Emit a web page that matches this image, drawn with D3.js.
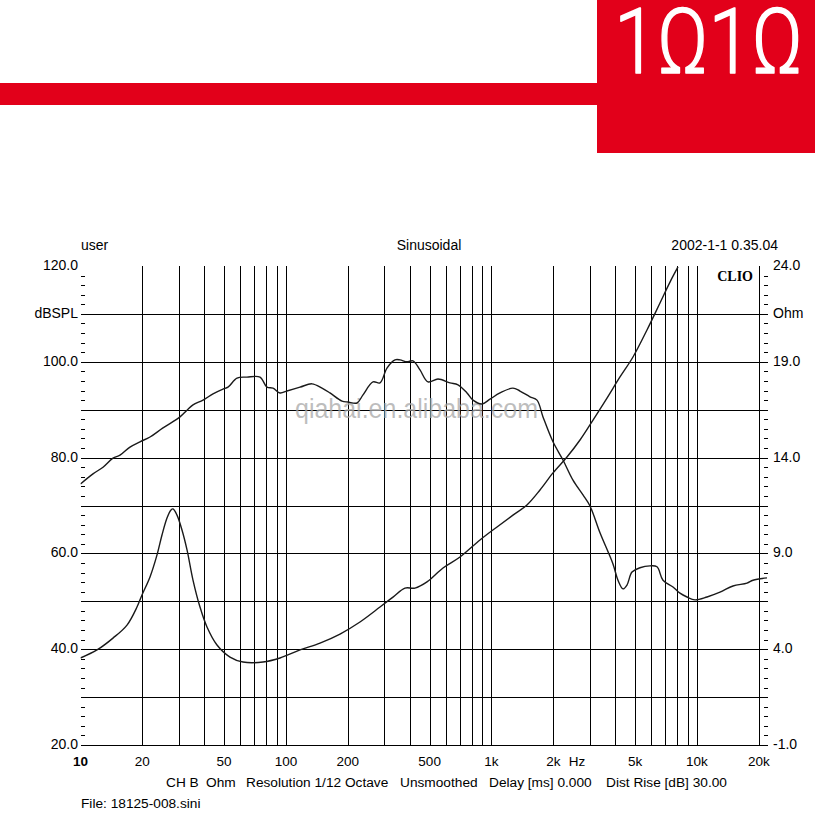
<!DOCTYPE html>
<html><head><meta charset="utf-8">
<script src="https://cdn.jsdelivr.net/npm/d3@7/dist/d3.min.js"></script>
<style>
html,body{margin:0;padding:0;background:#fff;}
svg{display:block;font-family:"Liberation Sans",Arial,sans-serif;}
</style></head>
<body>
<svg id="c" width="828" height="824"></svg>
<script>
// ---------- data ----------
const gridFreqs = [20,30,40,50,60,70,80,90,100,200,300,400,500,600,700,800,900,1000,2000,3000,4000,5000,6000,7000,8000,9000,10000,20000];
const xLabelFreqs = [10,20,50,100,200,500,1000,2000,5000,10000,20000];
const xLabelTexts = ["10","20","50","100","200","500","1k","2k","5k","10k","20k"];
const dbGrid = [20,30,40,50,60,70,80,90,100,110];
const leftTickValues = [120,110,100,80,60,40,20];
const leftTickLabels = ["120.0","dBSPL","100.0","80.0","60.0","40.0","20.0"];
const rightTickValues = [24,21.5,19,14,9,4,-1];
const rightTickLabels = ["24.0","Ohm","19.0","14.0","9.0","4.0","-1.0"];
const footerTexts = ["CH B","Ohm","Resolution 1/12 Octave","Unsmoothed","Delay [ms] 0.000","Dist Rise [dB] 30.00"];

const splFreq = [10,11.5,12.87,14.39,15.57,17.41,19.47,21.79,25.2,30.5,32.99,35.27,39.46,44.14,49.36,52.21,57.75,64.6,74.73,80.82,86.46,93.49,101.1,117,133.8,149.7,163.7,187.3,200.3,221.6,237,265.1,286.7,310,339.2,358.7,387.9,415,448.8,491,549.2,628.2,687.1,760,812.8,898.9,983.3,1100,1272,1376,1539,1665,1781,1992,2228,2492,2788,3015,3373,3901,4126,4365,4564,4828,5280,5905,6389,6832,7642,8265,8941,9777,11190,12940,14970,17510,18730,21910];
const splDb = [74.5,76.6,78.0,79.9,80.5,82.2,83.3,84.3,86.2,88.5,89.9,91.0,92.0,93.3,94.3,94.7,96.6,96.8,96.8,94.7,94.5,93.5,93.9,94.7,95.4,94.5,93.5,91.8,91.6,91.4,93.1,95.8,95.6,98.7,100.4,100.4,100.0,100.2,98.3,95.8,96.4,95.6,95.2,93.5,92.0,91.2,92.2,93.5,94.5,93.9,92.7,92.0,88.5,83.3,79.5,75.3,72.2,69.9,64.3,57.8,54.4,52.6,53.4,56.1,57.0,57.4,57.2,54.4,53.0,51.7,50.9,50.3,50.9,51.9,53.2,53.8,54.4,54.9];

const impFreq = [10,12.03,14.39,16.84,18.83,19.92,21.79,23.57,24.92,26.36,27.57,28.19,29.48,31.18,32.99,35.27,38.15,41.26,46.15,53.39,61.78,77.29,93.49,117,146.4,183.2,229.1,286.7,331.7,379.3,424.3,485.5,580.8,702.7,879,1064,1272,1488,1722,1992,2330,2696,3119,3648,4220,4882,5710,6607,7390,8083];
const impOhm = [3.54,3.96,4.58,5.26,6.20,6.83,7.77,8.92,9.96,10.85,11.27,11.32,11.00,10.22,9.18,7.61,6.20,5.16,4.22,3.59,3.33,3.33,3.54,3.96,4.32,4.79,5.42,6.20,6.72,7.19,7.19,7.51,8.24,8.81,9.70,10.38,11.00,11.53,12.31,13.20,14.03,14.92,15.96,17.11,18.21,19.25,20.66,22.07,23.16,23.95];

// ---------- layout ----------
const svg = d3.select("#c");
const L = 80.5, R = 768, T = 266, B = 745;
const x = d3.scaleLog().domain([10, 22160]).range([L, R]);
const yL = d3.scaleLinear().domain([20,120]).range([B, T]);
const yR = d3.scaleLinear().domain([-1,24]).range([B, T]);
const RED = "#e2001a";

// header banner
svg.append("rect").attr("x",0).attr("y",83).attr("width",600).attr("height",22).attr("fill",RED);
svg.append("rect").attr("x",597).attr("y",0).attr("width",218).attr("height",153).attr("fill",RED);
svg.append("text").attr("x",614).attr("y",73).attr("fill","#fff")
  .attr("stroke","#fff").attr("stroke-width",1.4).attr("stroke-linejoin","round")
  .attr("font-family","Roboto, 'Liberation Sans', sans-serif").attr("font-weight",300)
  .attr("font-size",90).attr("textLength",189).attr("lengthAdjust","spacingAndGlyphs")
  .text("1Ω1Ω");

// grid
const g = svg.append("g").attr("shape-rendering","crispEdges");
g.selectAll("line.v").data(gridFreqs).join("line")
  .attr("x1",d=>Math.round(x(d))+0.5).attr("x2",d=>Math.round(x(d))+0.5)
  .attr("y1",T).attr("y2",B).attr("stroke","#000").attr("stroke-width",1);
g.selectAll("line.h").data(dbGrid).join("line")
  .attr("x1",L).attr("x2",R)
  .attr("y1",d=>Math.round(yL(d))+0.5).attr("y2",d=>Math.round(yL(d))+0.5)
  .attr("stroke","#000").attr("stroke-width",1);

// minor ticks
const minorDb = d3.range(20,121,2).filter(v=>v%10!==0);
const axL = svg.append("g").attr("transform",`translate(${L},0)`)
  .call(d3.axisRight(yL).tickValues(minorDb).tickSize(4).tickFormat(""));
axL.select(".domain").remove();
const minorOhm = minorDb.map(v=>yR.invert(yL(v)));
const axR = svg.append("g").attr("transform",`translate(${R},0)`)
  .call(d3.axisLeft(yR).tickValues(minorOhm).tickSize(4).tickFormat(""));
axR.select(".domain").remove();
svg.selectAll(".tick line").attr("stroke","#000").attr("shape-rendering","crispEdges");

// watermark
svg.append("text").attr("x",295).attr("y",418).attr("font-size",27)
  .attr("fill","#a8a8a8").attr("fill-opacity",0.75)
  .attr("textLength",243).attr("lengthAdjust","spacingAndGlyphs")
  .text("qiahai.en.alibaba.com");

// curves
svg.append("clipPath").attr("id","pc").append("rect").attr("x",L).attr("y",T).attr("width",R-L).attr("height",B-T);
const splLine = d3.line().x((d,i)=>x(splFreq[i])).y(d=>yL(d)).curve(d3.curveCatmullRom.alpha(0.5));
const impLine = d3.line().x((d,i)=>x(impFreq[i])).y(d=>yR(d)).curve(d3.curveCatmullRom.alpha(0.5));
svg.append("path").attr("d",splLine(splDb)).attr("fill","none").attr("stroke","#1a1a1a").attr("stroke-width",1.4).attr("clip-path","url(#pc)");
svg.append("path").attr("d",impLine(impOhm)).attr("fill","none").attr("stroke","#1a1a1a").attr("stroke-width",1.4).attr("clip-path","url(#pc)");

// axis labels
const fs = 13.5;
svg.selectAll("text.xl").data(xLabelFreqs).join("text")
  .attr("x",d=>x(d)).attr("y",766).attr("text-anchor","middle").attr("font-size",fs)
  .attr("font-weight",(d,i)=>i===0?"bold":"normal")
  .text((d,i)=>xLabelTexts[i]);
svg.append("text").attr("x",577).attr("y",766).attr("text-anchor","middle").attr("font-size",fs).text("Hz");

svg.selectAll("text.ll").data(leftTickValues).join("text")
  .attr("x",78).attr("y",d=>yL(d)+4).attr("text-anchor","end").attr("font-size",14)
  .text((d,i)=>leftTickLabels[i]);
svg.selectAll("text.rl").data(rightTickValues).join("text")
  .attr("x",773).attr("y",d=>yR(d)+4).attr("text-anchor","start").attr("font-size",14)
  .text((d,i)=>rightTickLabels[i]);

// header texts
svg.append("text").attr("x",81).attr("y",250).attr("font-size",14).text("user");
svg.append("text").attr("x",429).attr("y",250).attr("text-anchor","middle").attr("font-size",14).text("Sinusoidal");
svg.append("text").attr("x",778).attr("y",250).attr("text-anchor","end").attr("font-size",14).text("2002-1-1 0.35.04");
svg.append("text").attr("x",753).attr("y",281).attr("text-anchor","end").attr("font-size",14)
  .attr("font-family","'Liberation Serif','DejaVu Serif',serif").attr("font-weight","bold").text("CLIO");

// footer
const footerX = [166,206,246,400,489,606];
svg.selectAll("text.ft").data(footerTexts).join("text")
  .attr("x",(d,i)=>footerX[i]).attr("y",787).attr("font-size",13.7).text(d=>d);
svg.append("text").attr("x",81).attr("y",808).attr("font-size",13.7).text("File: 18125-008.sini");
</script>
</body></html>
